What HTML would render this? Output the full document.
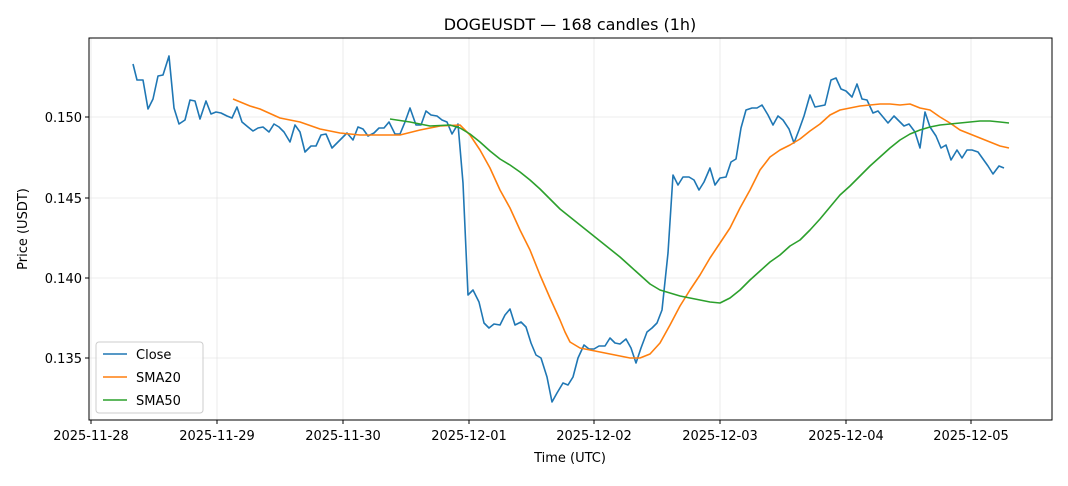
<!DOCTYPE html>
<html><head><meta charset="utf-8"><style>
body{margin:0;background:#fff;}
svg text{font-family:"DejaVu Sans","Liberation Sans",sans-serif;fill:#000;}
</style></head><body>
<svg width="1068" height="481" viewBox="0 0 1068 481" xmlns="http://www.w3.org/2000/svg">
<rect width="1068" height="481" fill="#fff"/>
<g stroke="#e6e6e6" stroke-width="0.8">
<line x1="91" y1="38" x2="91" y2="420"/><line x1="217" y1="38" x2="217" y2="420"/><line x1="343" y1="38" x2="343" y2="420"/><line x1="469" y1="38" x2="469" y2="420"/><line x1="594" y1="38" x2="594" y2="420"/><line x1="720" y1="38" x2="720" y2="420"/><line x1="846" y1="38" x2="846" y2="420"/><line x1="971" y1="38" x2="971" y2="420"/>
<line x1="89" y1="358" x2="1052" y2="358"/><line x1="89" y1="278" x2="1052" y2="278"/><line x1="89" y1="198" x2="1052" y2="198"/><line x1="89" y1="117" x2="1052" y2="117"/>
</g>
<g fill="none" stroke-width="1.6" stroke-linejoin="round">
<polyline stroke="#1f77b4" points="133,64 137,80 143,80 148,109 153,99 158,76 163,75 169,56 174,108 179,124 185,120 190,100 195,101 200,119 206,101 211,114 216,112 221,113 227,116 232,118 237,107 242,122 248,127 253,131 258,128 263,127 269,132 274,124 279,127 284,132 290,142 295,125 300,132 305,152 311,146 316,146 321,135 326,134 332,148 337,143 342,138 347,133 353,140 358,127 363,129 368,136 374,133 379,128 384,128 389,122 395,134 400,134 405,122 410,108 416,125 421,125 426,111 431,115 437,116 442,120 447,122 452,134 458,124 463,183 468,295 473,290 479,302 484,323 489,328 494,324 500,325 505,315 510,309 515,325 521,322 526,327 531,343 536,355 541,358 547,377 552,402 557,393 563,383 568,385 573,377 578,358 584,345 589,349 594,349 599,346 605,346 610,338 615,343 620,344 626,339 631,348 636,363 641,348 647,332 652,328 657,323 662,310 668,253 673,175 678,185 683,177 689,177 694,180 699,190 704,182 710,168 715,185 720,178 726,177 731,162 736,159 741,128 746,110 752,108 757,108 762,105 768,115 773,125 778,116 783,120 789,129 794,143 799,130 804,116 810,95 815,107 820,106 825,105 831,80 836,78 841,89 846,91 852,97 857,84 862,99 867,100 873,113 878,111 883,117 888,123 894,116 899,121 904,126 909,124 915,132 920,148 925,112 930,127 936,136 941,148 946,145 951,160 957,150 962,158 967,150 972,150 978,152 983,159 988,166 993,174 999,166 1004,168"/>
<polyline stroke="#ff7f0e" points="233,99 250,106 260,109 280,118 300,122 320,129 340,133 360,135 380,135 400,135 420,130 440,126 460,125 470,135 480,150 490,168 500,190 510,208 520,230 530,250 540,275 550,298 560,320 565,332 570,342 580,348 590,350 600,352 610,354 620,356 630,358 640,358 650,354 660,343 670,325 680,306 690,290 700,275 710,258 720,243 730,228 740,208 750,190 760,170 770,157 780,150 790,145 800,139 810,131 820,124 830,115 840,110 850,108 860,106 870,105 880,104 890,104 900,105 910,104 920,108 930,110 940,117 950,123 960,130 970,134 980,138 990,142 1000,146 1009,148"/>
<polyline stroke="#2ca02c" points="390,119 410,122 430,126 450,125 460,128 470,134 480,142 490,151 500,159 510,165 520,172 530,180 540,189 550,199 560,209 570,217 580,225 590,233 600,241 610,249 620,257 630,266 640,275 650,284 660,290 670,293 680,296 690,298 700,300 710,302 720,303 730,298 740,290 750,280 760,271 770,262 780,255 790,246 800,240 810,230 820,219 830,207 840,195 850,186 860,176 870,166 880,157 890,148 900,140 910,134 920,130 930,127 940,125 950,124 960,123 970,122 980,121 990,121 1000,122 1009,123"/>
</g>
<rect x="89" y="38" width="963" height="382" fill="none" stroke="#000" stroke-width="1"/>
<g stroke="#000" stroke-width="1">
<line x1="91" y1="420" x2="91" y2="424"/><line x1="217" y1="420" x2="217" y2="424"/><line x1="343" y1="420" x2="343" y2="424"/><line x1="469" y1="420" x2="469" y2="424"/><line x1="594" y1="420" x2="594" y2="424"/><line x1="720" y1="420" x2="720" y2="424"/><line x1="846" y1="420" x2="846" y2="424"/><line x1="971" y1="420" x2="971" y2="424"/>
<line x1="85" y1="358" x2="89" y2="358"/><line x1="85" y1="278" x2="89" y2="278"/><line x1="85" y1="198" x2="89" y2="198"/><line x1="85" y1="117" x2="89" y2="117"/>
</g>
<g font-size="13" text-anchor="middle">
<text x="91" y="440">2025-11-28</text><text x="217" y="440">2025-11-29</text><text x="343" y="440">2025-11-30</text><text x="469" y="440">2025-12-01</text><text x="594" y="440">2025-12-02</text><text x="720" y="440">2025-12-03</text><text x="846" y="440">2025-12-04</text><text x="971" y="440">2025-12-05</text>
</g>
<g font-size="13" text-anchor="end">
<text x="82" y="363">0.135</text><text x="82" y="283">0.140</text><text x="82" y="203">0.145</text><text x="82" y="122">0.150</text>
</g>
<text x="570" y="462" font-size="13" text-anchor="middle">Time (UTC)</text>
<text transform="translate(27,229) rotate(-90)" font-size="13" text-anchor="middle">Price (USDT)</text>
<text x="570" y="30" font-size="16" text-anchor="middle">DOGEUSDT — 168 candles (1h)</text>
<rect x="96" y="342" width="107" height="71" rx="3" fill="#fff" fill-opacity="0.8" stroke="#ccc"/>
<g stroke-width="1.6"><line x1="103" y1="354" x2="127" y2="354" stroke="#1f77b4"/><line x1="103" y1="377" x2="127" y2="377" stroke="#ff7f0e"/><line x1="103" y1="400" x2="127" y2="400" stroke="#2ca02c"/></g>
<g font-size="13"><text x="136" y="359">Close</text><text x="136" y="382">SMA20</text><text x="136" y="405">SMA50</text></g>
</svg>
</body></html>
